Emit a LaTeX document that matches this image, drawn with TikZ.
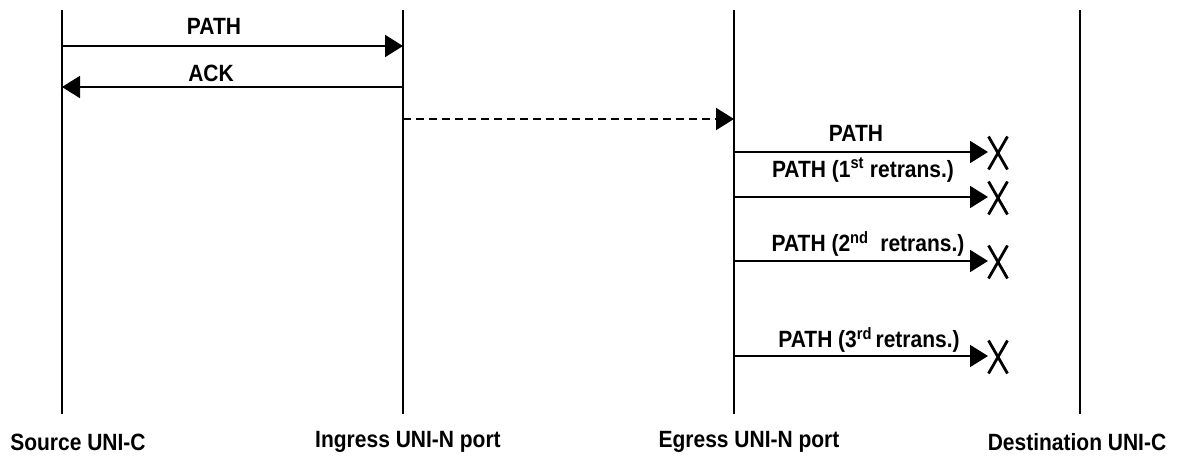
\documentclass[tikz,border=0pt]{standalone}
\usepackage{fontspec}
\setmainfont{Liberation Sans}
\usetikzlibrary{arrows.meta}
\newcommand{\tallbox}[1]{\scalebox{1}[1.12]{#1}}
\begin{document}
\begin{tikzpicture}[x=1pt,y=-1pt,
  lifeline/.style={line width=1.4pt},
  msg/.style={line width=1.8pt,-{Triangle[length=18pt,width=22pt]}},
  dmsg/.style={msg,dash pattern=on 8pt off 5pt},
  lbl/.style={font=\bfseries\fontsize{21}{23}\selectfont,inner sep=0pt},
  cross/.style={line width=2.8pt},
  every node/.style={inner sep=0pt}]
\useasboundingbox (0,0) rectangle (1179,461);

% lifelines
\coordinate (s1) at (62,10);   \coordinate (s2) at (62,414);
\coordinate (i1) at (403,10);  \coordinate (i2) at (403,414);
\coordinate (e1) at (734,10);  \coordinate (e2) at (734,414);
\coordinate (d1) at (1080,10); \coordinate (d2) at (1080,414);
\draw[lifeline] (s1) -- (s2);
\draw[lifeline] (i1) -- (i2);
\draw[lifeline] (e1) -- (e2);
\draw[lifeline] (d1) -- (d2);

% lifeline names
\node[lbl] (nsrc) at (78,442) {\tallbox{Source UNI-C}};
\node[lbl] (ning) at (408,442) {\tallbox{Ingress UNI-N port}};
\node[lbl] (negr) at (749,442) {\tallbox{Egress UNI-N port}};
\node[lbl] (ndst) at (1077,442) {\tallbox{Destination UNI-C}};

% source <-> ingress
\coordinate (pa) at (62,46);  \coordinate (pb) at (403,46);
\draw[msg] (pa) -- (pb);
\node[lbl] (lpath) at (214,26) {\tallbox{PATH}};
\coordinate (aa) at (403,87); \coordinate (ab) at (62,87);
\draw[msg] (aa) -- (ab);
\node[lbl] (lack) at (211,73) {\tallbox{ACK}};

% ingress -> egress across the network
\coordinate (da) at (403,119); \coordinate (db) at (734,119);
\draw[dmsg] (da) -- (db);

% egress -> destination, lost messages
\foreach \n/\y/\xc/\yc/\t in {
  0/152/856/133/{PATH},
  1/197/863/170/{PATH (1\textsuperscript{st} retrans.)},
  2/261/868/244/{PATH (2\textsuperscript{nd}\ \ retrans.)},
  3/356/869/340/{PATH (3\textsuperscript{rd}\,retrans.)}} {
  \coordinate (r\n a) at (734,\y);
  \coordinate (r\n b) at (988,\y);
  \draw[msg] (r\n a) -- (r\n b);
  \node[lbl] (r\n l) at (\xc,\yc) {\tallbox{\t}};
  \coordinate (x\n) at (998,\y+1);
  \draw[cross] ([shift={(-9.5,-16.5)}]x\n) -- ([shift={(9.5,16.5)}]x\n)
               ([shift={(9.5,-16.5)}]x\n) -- ([shift={(-9.5,16.5)}]x\n);
}
\end{tikzpicture}
\end{document}
